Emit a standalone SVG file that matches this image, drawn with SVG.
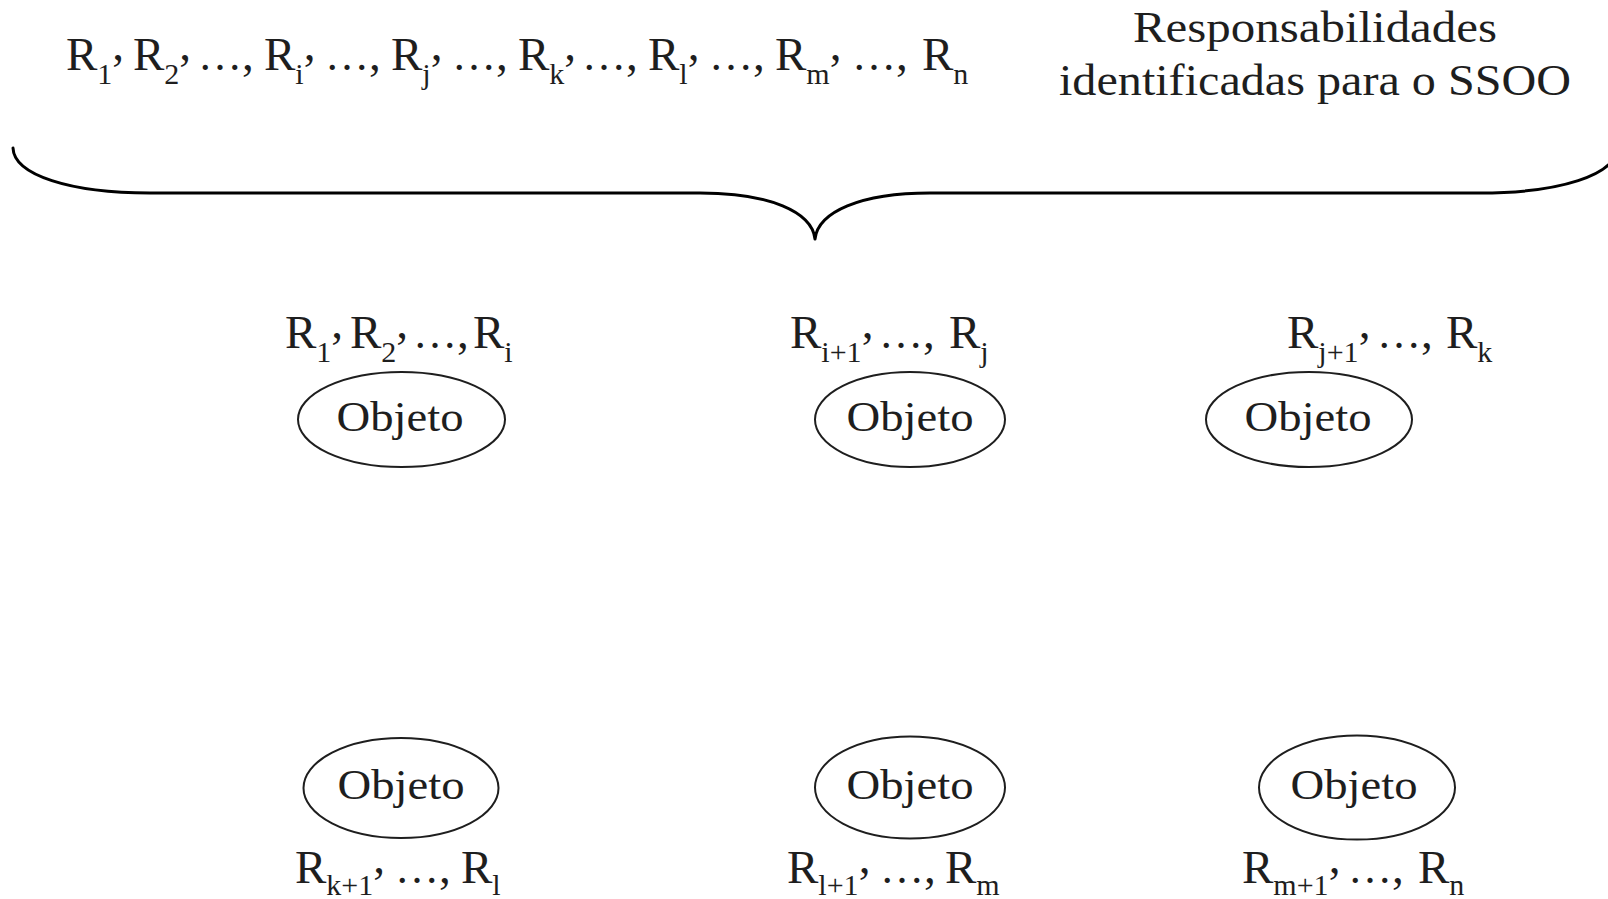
<svg xmlns="http://www.w3.org/2000/svg" width="1608" height="899" viewBox="0 0 1608 899">
<style>
.t { font-family: "Liberation Serif", "Times New Roman", serif; fill: #1e1e1e; }
.m { font-size: 47px; }
.s { font-size: 30px; }
.e { font-size: 44px; }
.obj { font-size: 42px; text-anchor: middle; }
.desc { font-size: 45px; text-anchor: middle; }
.node ellipse { fill: none; stroke: #1e1e1e; stroke-width: 2; }
.brace { fill: none; stroke: #000; stroke-width: 3; stroke-linecap: round; stroke-linejoin: round; }
</style>
<rect width="1608" height="899" fill="#fff"/>

<g id="connectors">
  <path class="brace" d="M13,148 C14,175 70,193 150,193 L700,193 C770,193 812,212 815,239 C818,212 860,193 930,193 L1480,193 C1560,193 1616,175 1617,148"/>
</g>

<g id="all-responsibilities">
  <text class="t m">
    <tspan x="66" y="70">R</tspan><tspan class="s" y="84">1</tspan><tspan y="60">,</tspan>
    <tspan x="133" y="70">R</tspan><tspan class="s" y="84">2</tspan><tspan y="60">,</tspan>
    <tspan class="e" x="198" y="70">…</tspan><tspan y="70">,</tspan>
    <tspan x="264" y="70">R</tspan><tspan class="s" y="84">i</tspan><tspan y="60">,</tspan>
    <tspan class="e" x="325" y="70">…</tspan><tspan y="70">,</tspan>
    <tspan x="391" y="70">R</tspan><tspan class="s" y="84">j</tspan><tspan y="60">,</tspan>
    <tspan class="e" x="452" y="70">…</tspan><tspan y="70">,</tspan>
    <tspan x="518" y="70">R</tspan><tspan class="s" y="84">k</tspan><tspan y="60">,</tspan>
    <tspan class="e" x="582" y="70">…</tspan><tspan y="70">,</tspan>
    <tspan x="648" y="70">R</tspan><tspan class="s" y="84">l</tspan><tspan y="60">,</tspan>
    <tspan class="e" x="709" y="70">…</tspan><tspan y="70">,</tspan>
    <tspan x="775" y="70">R</tspan><tspan class="s" y="84">m</tspan><tspan y="60">,</tspan>
    <tspan class="e" x="852" y="70">…</tspan><tspan y="70">,</tspan>
    <tspan x="922" y="70">R</tspan><tspan class="s" y="84">n</tspan>
  </text>
</g>

<g id="description">
  <text class="t desc" x="1315" y="42" textLength="364" lengthAdjust="spacingAndGlyphs">Responsabilidades</text>
  <text class="t desc" x="1315" y="95" textLength="512" lengthAdjust="spacingAndGlyphs">identificadas para o SSOO</text>
</g>

<g id="node1" class="node">
  <ellipse cx="401.5" cy="419.5" rx="103.5" ry="47.5"/>
  <text class="t obj" x="400" y="431" textLength="127" lengthAdjust="spacingAndGlyphs">Objeto</text>
  <text class="t m">
    <tspan x="285" y="348">R</tspan><tspan class="s" y="362">1</tspan><tspan y="338">,</tspan>
    <tspan x="350" y="348">R</tspan><tspan class="s" y="362">2</tspan><tspan y="338">,</tspan>
    <tspan class="e" x="413" y="348">…</tspan><tspan y="348">,</tspan>
    <tspan x="473" y="348">R</tspan><tspan class="s" y="362">i</tspan>
  </text>
</g>

<g id="node2" class="node">
  <ellipse cx="910" cy="419.5" rx="95" ry="47.5"/>
  <text class="t obj" x="910" y="431" textLength="127" lengthAdjust="spacingAndGlyphs">Objeto</text>
  <text class="t m">
    <tspan x="790" y="348">R</tspan><tspan class="s" y="362">i+1</tspan><tspan y="338">,</tspan>
    <tspan class="e" x="879" y="348">…</tspan><tspan y="348">,</tspan>
    <tspan x="949" y="348">R</tspan><tspan class="s" y="362">j</tspan>
  </text>
</g>

<g id="node3" class="node">
  <ellipse cx="1309" cy="419.5" rx="103" ry="47.5"/>
  <text class="t obj" x="1308" y="431" textLength="127" lengthAdjust="spacingAndGlyphs">Objeto</text>
  <text class="t m">
    <tspan x="1287" y="348">R</tspan><tspan class="s" y="362">j+1</tspan><tspan y="338">,</tspan>
    <tspan class="e" x="1377" y="348">…</tspan><tspan y="348">,</tspan>
    <tspan x="1446" y="348">R</tspan><tspan class="s" y="362">k</tspan>
  </text>
</g>

<g id="node4" class="node">
  <ellipse cx="401" cy="788" rx="97.5" ry="50"/>
  <text class="t obj" x="401" y="799" textLength="127" lengthAdjust="spacingAndGlyphs">Objeto</text>
  <text class="t m">
    <tspan x="295" y="883">R</tspan><tspan class="s" y="895">k+1</tspan><tspan y="873">,</tspan>
    <tspan class="e" x="395" y="883">…</tspan><tspan y="883">,</tspan>
    <tspan x="461" y="883">R</tspan><tspan class="s" y="895">l</tspan>
  </text>
</g>

<g id="node5" class="node">
  <ellipse cx="910" cy="787.5" rx="95" ry="51"/>
  <text class="t obj" x="910" y="799" textLength="127" lengthAdjust="spacingAndGlyphs">Objeto</text>
  <text class="t m">
    <tspan x="787" y="883">R</tspan><tspan class="s" y="895">l+1</tspan><tspan y="873">,</tspan>
    <tspan class="e" x="880" y="883">…</tspan><tspan y="883">,</tspan>
    <tspan x="945" y="883">R</tspan><tspan class="s" y="895">m</tspan>
  </text>
</g>

<g id="node6" class="node">
  <ellipse cx="1357" cy="787.5" rx="98" ry="52"/>
  <text class="t obj" x="1354" y="799" textLength="127" lengthAdjust="spacingAndGlyphs">Objeto</text>
  <text class="t m">
    <tspan x="1242" y="883">R</tspan><tspan class="s" y="895">m+1</tspan><tspan y="873">,</tspan>
    <tspan class="e" x="1348" y="883">…</tspan><tspan y="883">,</tspan>
    <tspan x="1418" y="883">R</tspan><tspan class="s" y="895">n</tspan>
  </text>
</g>
</svg>
